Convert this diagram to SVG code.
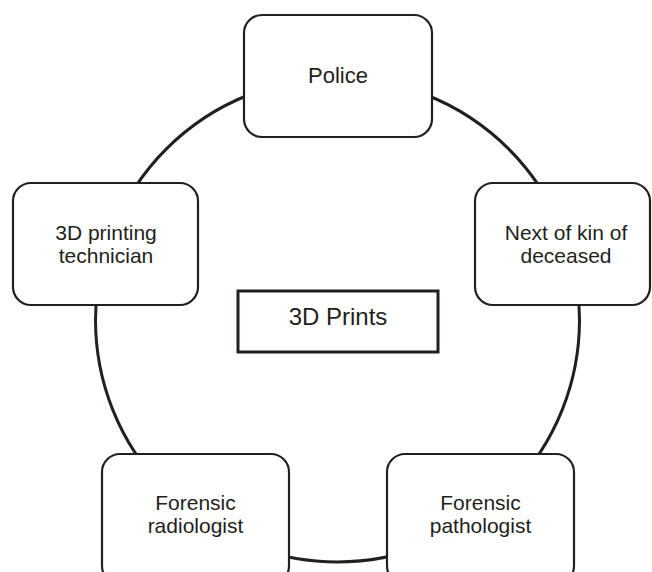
<svg xmlns="http://www.w3.org/2000/svg" width="652" height="572" viewBox="0 0 652 572">
<style>
.node rect{fill:#fff;stroke:#231f20;stroke-width:2.2}
text{font-family:"Liberation Sans",Arial,sans-serif;font-size:21px;fill:#231f20;text-anchor:middle}
.ring{fill:none;stroke:#231f20;stroke-width:3}
</style>
<rect width="652" height="572" fill="#fff"/>
<g id="connectors">
<circle class="ring" cx="337.5" cy="320" r="242"/>
</g>
<g id="police" class="node">
<rect x="244" y="15" width="188" height="122" rx="18"/>
<text x="338" y="83" style="font-size:22px">Police</text>
</g>
<g id="next-of-kin" class="node">
<rect x="475" y="183" width="175" height="122" rx="18"/>
<text x="566" y="240">Next of kin of</text>
<text x="566" y="263">deceased</text>
</g>
<g id="technician" class="node">
<rect x="13" y="183" width="185" height="122" rx="18"/>
<text x="106" y="240">3D printing</text>
<text x="106" y="263">technician</text>
</g>
<g id="radiologist" class="node">
<rect x="102" y="454" width="187" height="130" rx="18"/>
<text x="195.5" y="510">Forensic</text>
<text x="195.5" y="533">radiologist</text>
</g>
<g id="pathologist" class="node">
<rect x="387" y="454" width="187" height="130" rx="18"/>
<text x="480.5" y="510">Forensic</text>
<text x="480.5" y="533">pathologist</text>
</g>
<g id="prints">
<rect x="238" y="291" width="200" height="61" fill="#fff" stroke="#231f20" stroke-width="3"/>
<text x="338" y="325" style="font-size:24px">3D Prints</text>
</g>
</svg>
